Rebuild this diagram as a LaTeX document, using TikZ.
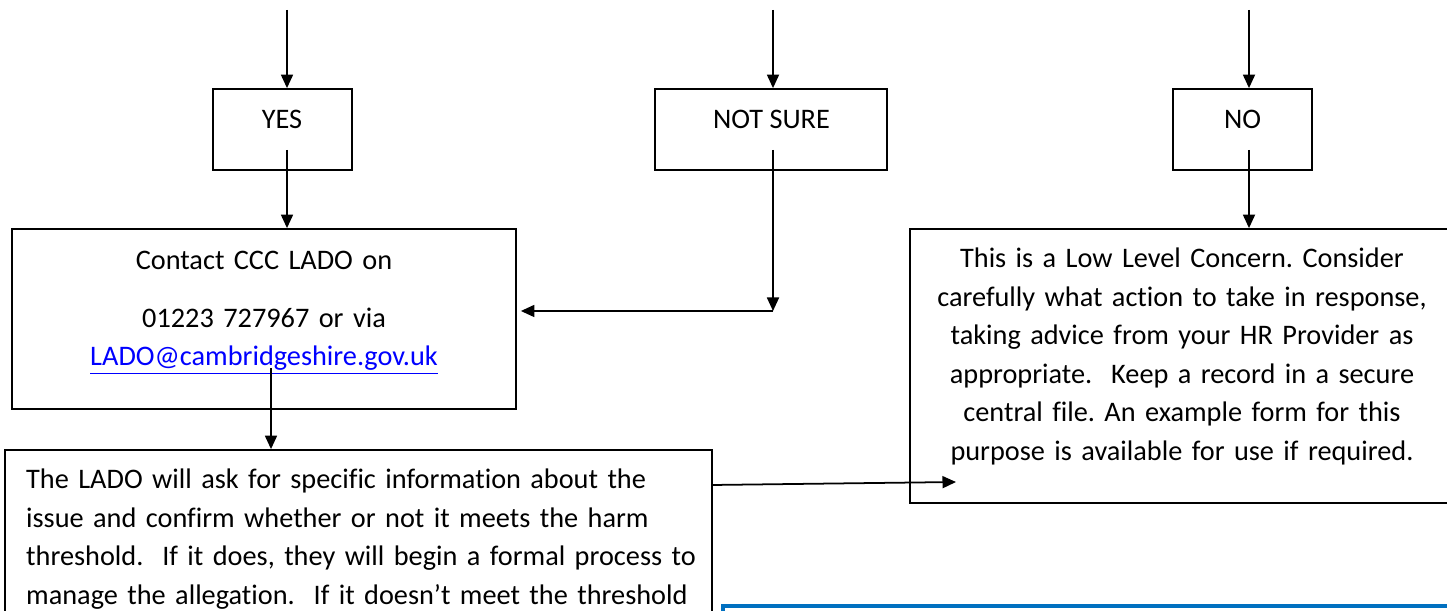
\documentclass[tikz,border=0pt]{standalone}
\usepackage{fontspec}
\setmainfont{Carlito}[Ligatures={NoCommon}]
\usetikzlibrary{positioning, arrows.meta}
\definecolor{noteblue}{HTML}{0070C0}
\definecolor{linkblue}{HTML}{0000FF}
\frenchspacing

\begin{document}
\begin{tikzpicture}[
    >={Triangle[length=0.27cm,width=0.24cm]},
    every node/.style={font=\fontsize{16.1pt}{21.9pt}\selectfont},
    box/.style={draw, line width=1pt, inner sep=0pt},
    arr/.style={->, line width=1pt}
  ]
      \useasboundingbox (0,0) rectangle (28.94,-12.22);
      \clip (0,0) rectangle (28.94,-12.22); % page is cut at the bottom and right

      % the three answer boxes
      \node[box, minimum width=2.78cm, minimum height=1.62cm] (yes) at (5.65,-2.59) {};
      \node[box, minimum width=4.64cm, minimum height=1.62cm] (notsure) at (15.42,-2.59) {};
      \node[box, minimum width=2.78cm, minimum height=1.62cm] (no) at (24.85,-2.59) {};
      \node[] (yeslbl) at (5.64,-2.38) {YES};
      \node[] (notsurelbl) at (15.43,-2.38) {NOT SURE};
      \node[] (nolbl) at (24.85,-2.38) {NO};

      % contact box
      \node[box, minimum width=10.08cm, minimum height=3.6cm] (contact) at (5.28,-6.38) {};
      \node[anchor=base, text width=10cm, align=center] (contacttxt) at (5.28,-5.39)
        {Contact CCC LADO on\\[11pt] 01223 727967 or via\\
         \textcolor{linkblue}{\underline{LADO@cambridgeshire.gov.uk}}};

      % low level concern box
      \node[box, minimum width=10.84cm, minimum height=5.48cm] (low) at (23.62,-7.32) {};
      \node[anchor=base, text width=10.8cm, align=center] (lowtxt) at (23.64,-5.36)
        {This is a Low Level Concern. Consider\\
         carefully what action to take in response,\\
         taking advice from your HR Provider as\\
         appropriate.\ \ Keep a record in a secure\\
         central file. An example form for this\\
         purpose is available for use if required.};

      % LADO box
      \node[box, minimum width=14.14cm, minimum height=5cm] (lado) at (7.17,-11.5) {};
      \node[anchor=base west, text width=14cm, align=left] (ladotxt) at (0.40,-9.78)
        {The LADO will ask for specific information about the\\
         issue and confirm whether or not it meets the harm\\
         threshold.\ \ If it does, they will begin a formal process to\\
         manage the allegation.\ \ If it doesn’t meet the threshold};

      % blue box
      \node[draw=noteblue, line width=2.2pt, minimum width=15cm, minimum height=2cm,
            anchor=north west] (note) at (14.42,-12.08) {};

      % arrow ends
      \coordinate (yestop) at (5.74,-0.2);
      \coordinate (notsuretop) at (15.46,-0.2);
      \coordinate (notop) at (24.98,-0.2);
      \coordinate (yesout) at (5.74,-3.0);
      \coordinate (notsureout) at (15.46,-3.0);
      \coordinate (noout) at (24.98,-3.0);
      \coordinate (bend) at (15.46,-6.22);
      \coordinate (mailout) at (5.42,-7.36);
      \coordinate (ladoout) at (14.24,-9.70);
      \coordinate (lowin) at (19.12,-9.64);

      \draw[arr] (yestop) -- (yestop |- yes.north);
      \draw[arr] (notsuretop) -- (notsuretop |- notsure.north);
      \draw[arr] (notop) -- (notop |- no.north);
      \draw[arr] (yesout) -- (yesout |- contact.north);
      \draw[arr] (notsureout) -- (bend);
      \draw[arr] (bend) -- ([xshift=0.08cm]contact.east |- bend);
      \draw[arr] (noout) -- (noout |- low.north);
      \draw[arr] (mailout) -- (mailout |- lado.north);
      \draw[arr] (ladoout) -- (lowin);
\end{tikzpicture}
\end{document}
